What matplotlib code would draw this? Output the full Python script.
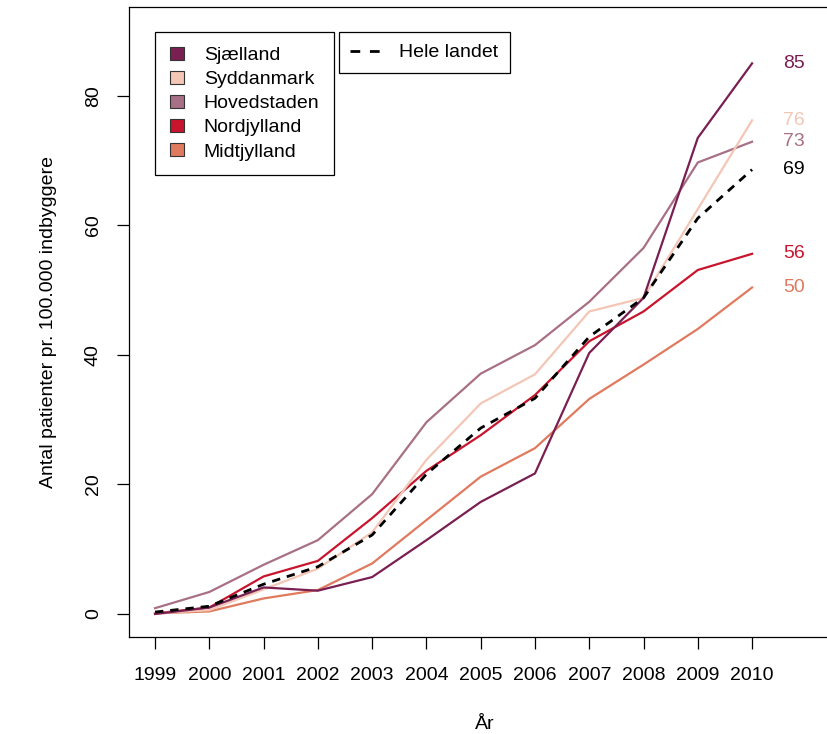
import matplotlib
matplotlib.use("Agg")
import matplotlib.pyplot as plt
from matplotlib.patches import Patch
from matplotlib.lines import Line2D

plt.rcParams['font.family'] = ['Liberation Sans', 'DejaVu Sans']

# data
years = [1999, 2000, 2001, 2002, 2003, 2004, 2005, 2006, 2007, 2008, 2009, 2010]
regions = ["Sjælland", "Syddanmark", "Hovedstaden", "Nordjylland", "Midtjylland"]
sjaelland = [0.0, 1.0, 4.1, 3.6, 5.7, 11.4, 17.3, 21.7, 40.3, 48.8, 73.5, 85.0]
syddanmark = [0.1, 0.6, 3.8, 7.0, 12.6, 23.8, 32.5, 37.0, 46.7, 48.8, 62.5, 76.2]
hovedstaden = [0.9, 3.4, 7.6, 11.4, 18.5, 29.6, 37.1, 41.5, 48.2, 56.5, 69.7, 72.9]
nordjylland = [0.1, 1.0, 5.8, 8.2, 14.8, 22.1, 27.6, 33.8, 42.1, 46.7, 53.1, 55.6]
midtjylland = [0.1, 0.4, 2.4, 3.7, 7.8, 14.5, 21.2, 25.6, 33.2, 38.5, 44.0, 50.4]
hele_landet = [0.3, 1.2, 4.6, 7.3, 12.2, 21.6, 28.7, 33.3, 42.8, 48.8, 61.1, 68.6]

colors = ["#7a1f52", "#f3c6b6", "#a87086", "#c9142d", "#e07a5f"]
series = [sjaelland, syddanmark, hovedstaden, nordjylland, midtjylland]

fs = 14
dash = (0, (3, 2.5))

fig = plt.figure(figsize=(8.27, 7.34), dpi=100)
# axes box runs past the right edge of the image, like the reference
ax = fig.add_axes([129 / 827, 1 - 637 / 734, 711 / 827, 630 / 734])

for vals, col in reversed(list(zip(series, colors))):
    ax.plot(years, vals, color=col, lw=1.6)
ax.plot(years, hele_landet, color="black", lw=2.0, linestyle=dash)

# end-of-line value labels
label_x = years[-1] + 0.77
for vals, col in zip(series, colors):
    ax.text(label_x, vals[-1], f"{vals[-1]:.0f}", color=col, fontsize=fs,
            ha="center", va="center")
ax.text(label_x, hele_landet[-1], f"{hele_landet[-1]:.0f}", color="black",
        fontsize=fs, ha="center", va="center")

ax.set_xlim(1998.52, 2011.62)
ax.set_ylim(-3.55, 93.7)
ax.set_xticks(years)
ax.set_xticklabels([str(y) for y in years])
ax.set_yticks([0, 20, 40, 60, 80])
ax.tick_params(axis="both", direction="out", length=8.5, width=0.9, labelsize=fs)
ax.tick_params(axis="x", pad=13)
ax.tick_params(axis="y", pad=11, labelrotation=90)
for lab in ax.get_yticklabels():
    lab.set_va("center")
for sp in ax.spines.values():
    sp.set_linewidth(0.9)

ax.set_xlabel("År", fontsize=fs, labelpad=23)
ax.set_ylabel("Antal patienter pr. 100.000 indbyggere", fontsize=fs, labelpad=20)

handles = [Patch(facecolor=c, edgecolor="#333333", linewidth=0.8) for c in colors]
leg1 = ax.legend(handles, regions, loc="upper left", bbox_to_anchor=(0.0366, 0.960),
                 fontsize=fs, frameon=True, fancybox=False, framealpha=1,
                 edgecolor="black", handlelength=0.75, handleheight=0.65,
                 handletextpad=1.0, labelspacing=0.35, borderpad=0.75,
                 borderaxespad=0)
leg1.get_frame().set_linewidth(0.9)
ax.add_artist(leg1)

leg2 = ax.legend([Line2D([0], [0], color="black", lw=2.0, linestyle=(0, (3.5, 3.5)))],
                 ["Hele landet"], loc="upper left", bbox_to_anchor=(0.295, 0.960),
                 fontsize=fs, frameon=True, fancybox=False, framealpha=1,
                 edgecolor="black", handlelength=1.5, handletextpad=1.0,
                 borderpad=0.6, borderaxespad=0)
leg2.get_frame().set_linewidth(0.9)

fig.savefig("out.png", dpi=100)
